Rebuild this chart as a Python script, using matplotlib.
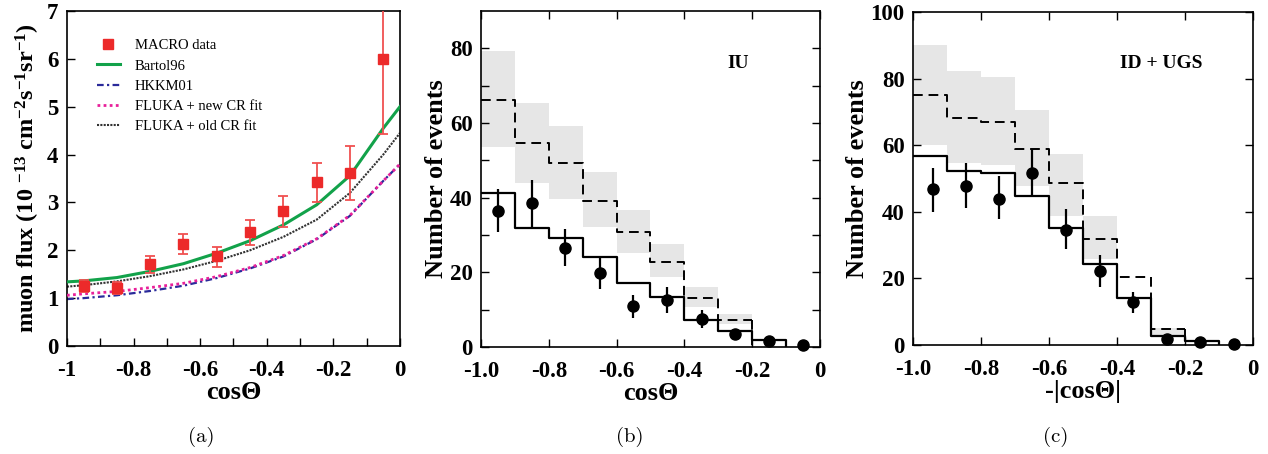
import numpy as np
import matplotlib
matplotlib.use("Agg")
from matplotlib import pyplot as plt

plt.rcParams["font.family"] = ["Liberation Serif", "DejaVu Serif"]
plt.rcParams["mathtext.fontset"] = "custom"
plt.rcParams["mathtext.rm"] = "Liberation Serif:bold"
plt.rcParams["mathtext.it"] = "Liberation Serif:bold"
plt.rcParams["mathtext.bf"] = "Liberation Serif:bold"

# ---- panel (a): muon flux ----
macro_x = [-0.95, -0.85, -0.75, -0.65, -0.55, -0.45, -0.35, -0.25, -0.15, -0.05]
macro_y = [1.26, 1.22, 1.71, 2.14, 1.87, 2.38, 2.82, 3.42, 3.62, 5.99]
macro_up = [0.12, 0.12, 0.18, 0.21, 0.20, 0.26, 0.32, 0.41, 0.55, 1.40]
macro_dn = [0.14, 0.14, 0.18, 0.22, 0.22, 0.27, 0.33, 0.42, 0.56, 1.56]

model_x = [-1.0, -0.95, -0.85, -0.75, -0.65, -0.55, -0.45, -0.35, -0.25, -0.15, -0.05, 0.0]
bartol96 = [1.34, 1.36, 1.43, 1.56, 1.72, 1.94, 2.20, 2.53, 2.95, 3.56, 4.55, 5.00]
hkkm01 = [0.98, 1.00, 1.06, 1.15, 1.26, 1.42, 1.62, 1.87, 2.23, 2.72, 3.45, 3.80]
fluka_new = [1.06, 1.09, 1.14, 1.22, 1.31, 1.45, 1.64, 1.89, 2.24, 2.73, 3.45, 3.80]
fluka_old = [1.24, 1.27, 1.35, 1.46, 1.60, 1.78, 2.00, 2.28, 2.64, 3.20, 4.00, 4.45]

# ---- panel (b): IU ----
bin_edges = np.round(np.arange(-1.0, 0.01, 0.1), 2)
iu_osc = [41.3, 31.9, 29.2, 24.0, 17.1, 13.3, 7.3, 4.2, 1.8, 0.0]
iu_noosc = [66.2, 54.7, 49.2, 39.2, 30.9, 22.7, 13.0, 7.2, 1.8, 0.0]
iu_band_hi = [79.2, 65.4, 59.1, 46.8, 36.8, 27.6, 16.0, 8.9, np.nan, np.nan]
iu_band_lo = [53.6, 43.8, 39.7, 32.2, 25.1, 18.7, 10.7, 6.2, np.nan, np.nan]
iu_x = [-0.951, -0.849, -0.751, -0.649, -0.552, -0.451, -0.348, -0.251, -0.150, -0.049]
iu_y = [36.4, 38.5, 26.4, 19.8, 10.9, 12.6, 7.6, 3.5, 1.5, 0.5]
iu_up = [6.0, 6.2, 5.3, 4.4, 3.1, 3.6, 2.4, 0.0, 0.0, 0.0]
iu_dn = [5.5, 6.3, 4.6, 4.3, 3.2, 3.5, 2.5, 0.0, 0.0, 0.0]

# ---- panel (c): ID + UGS ----
id_osc = [56.9, 52.2, 51.5, 44.8, 35.2, 24.3, 14.2, 2.7, 1.2, 0.0]
id_noosc = [75.0, 68.3, 67.0, 58.9, 48.7, 31.8, 20.3, 4.8, 1.2, 0.0]
id_band_hi = [90.2, 82.2, 80.5, 70.5, 57.3, 38.7, np.nan, 5.0, np.nan, np.nan]
id_band_lo = [60.0, 54.8, 54.0, 47.7, 38.7, 25.7, np.nan, 3.0, np.nan, np.nan]
id_x = [-0.941, -0.845, -0.747, -0.649, -0.550, -0.451, -0.353, -0.253, -0.155, -0.057]
id_y = [46.7, 47.8, 43.8, 51.7, 34.5, 22.2, 12.9, 1.8, 1.0, 0.2]
id_up = [6.6, 6.9, 6.9, 7.3, 6.2, 4.8, 3.1, 0.0, 0.0, 0.0]
id_dn = [6.7, 6.8, 6.1, 6.7, 5.8, 4.9, 3.4, 0.0, 0.0, 0.0]

TICK_FS = 16.5
LABEL_FS = 19


def style_axes(ax):
    for s in ax.spines.values():
        s.set_linewidth(1.2)
    ax.tick_params(which="both", direction="in", top=True, right=True,
                   width=1.0, labelsize=TICK_FS)
    ax.tick_params(which="both", length=6)
    ax.tick_params(axis="x", pad=10)
    ax.tick_params(axis="y", pad=6)
    for lab in ax.get_xticklabels() + ax.get_yticklabels():
        lab.set_fontweight("bold")


def histo(ax, vals, hi, lo, osc, data_x, data_y, up, dn):
    for i in range(len(vals)):
        if not np.isnan(hi[i]):
            ax.fill_between([bin_edges[i], bin_edges[i + 1]], lo[i], hi[i],
                            color="#e6e6e6", lw=0, zorder=1)
    # dashed (no oscillation)
    xs = np.repeat(bin_edges, 2)[1:-1]
    ax.plot(xs[:16], np.repeat(vals, 2)[:16], color="black", lw=1.4,
            ls=(0, (5, 3)), zorder=2)
    ax.plot([bin_edges[8], bin_edges[8]], [vals[7], 0], color="black",
            lw=1.4, ls=(0, (5, 3)), zorder=2)
    # solid (oscillated)
    ys = list(np.repeat(osc, 2))
    ax.plot(list(xs[:18]) + [bin_edges[9]], ys[:18] + [0], color="black",
            lw=1.6, zorder=3)
    ax.errorbar(data_x, data_y, yerr=[dn, up], fmt="o", color="black",
                ms=8, elinewidth=1.6, capsize=0, zorder=4, clip_on=False)
    ax.set_xlim(-1.0, 0.0)
    ax.set_xticks([-1.0, -0.8, -0.6, -0.4, -0.2, 0.0])
    ax.set_xticklabels(["-1.0", "-0.8", "-0.6", "-0.4", "-0.2", "0"])


fig = plt.figure(figsize=(12.68, 4.54), dpi=100)
fig.patch.set_facecolor("white")

# plot (a)
# ========
ax1 = fig.add_axes([0.0528, 0.2379, 0.2626, 0.7379])
ax1.plot(model_x, fluka_old, color="#333333", lw=1.5, ls=(0, (1, 0.6)),
         label="FLUKA + old CR fit", zorder=2)
ax1.plot(model_x, hkkm01, color="#2a2a9a", lw=1.6, ls=(0, (3, 1.5, 1, 1.5)),
         label="HKKM01", zorder=2)
ax1.plot(model_x, fluka_new, color="#e8209a", lw=2.0, ls=(0, (1, 1.2)),
         label="FLUKA + new CR fit", zorder=3)
ax1.plot(model_x, bartol96, color="#12a24a", lw=2.2, label="Bartol96", zorder=3)
ax1.errorbar(macro_x, macro_y, yerr=[macro_dn, macro_up], fmt="none",
             ecolor="#f05050", elinewidth=1.3, capsize=3.5, capthick=1.3,
             zorder=4)
ax1.plot(macro_x, macro_y, "s", color="#ec2a2a", ms=6.5, label="MACRO data",
         zorder=5)
ax1.set_xlim(-1, 0)
ax1.set_ylim(0, 7)
ax1.set_xticks([-1, -0.8, -0.6, -0.4, -0.2, 0])
ax1.set_xticklabels(["-1", "-0.8", "-0.6", "-0.4", "-0.2", "0"])
ax1.set_xticks(np.arange(-0.9, 0, 0.2), minor=True)
ax1.set_yticks(range(8))
style_axes(ax1)
ax1.tick_params(which="both", top=False, right=False)
ax1.set_xlabel("cosΘ", fontsize=LABEL_FS, fontweight="bold", labelpad=0)
ax1.set_ylabel(r"muon flux (10 $^{-13}$ cm$^{-2}$s$^{-1}$sr$^{-1}$)",
               fontsize=17.5, fontweight="bold", labelpad=4)
h, l = ax1.get_legend_handles_labels()
order = [4, 3, 1, 2, 0]
ax1.legend([h[i] for i in order], [l[i] for i in order], loc="upper left",
           bbox_to_anchor=(0.05, 0.955), frameon=False, fontsize=10.5,
           handlelength=1.6, handletextpad=1.0, labelspacing=0.48)

# plot (b)
# ========
ax2 = fig.add_axes([0.3793, 0.2357, 0.2674, 0.7401])
histo(ax2, iu_noosc, iu_band_hi, iu_band_lo, iu_osc, iu_x, iu_y, iu_up, iu_dn)
ax2.set_ylim(0, 90)
ax2.set_yticks([0, 20, 40, 60, 80])
ax2.set_yticks([10, 30, 50, 70], minor=True)
style_axes(ax2)
ax2.set_xlabel("cosΘ", fontsize=LABEL_FS, fontweight="bold", labelpad=0)
ax2.set_ylabel("Number of events", fontsize=LABEL_FS, fontweight="bold",
               labelpad=1)
ax2.text(0.76, 0.845, "IU", transform=ax2.transAxes, fontsize=14,
         fontweight="bold", ha="center", va="center")

# plot (c)
# ========
ax3 = fig.add_axes([0.7200, 0.2401, 0.2681, 0.7335])
histo(ax3, id_noosc, id_band_hi, id_band_lo, id_osc, id_x, id_y, id_up, id_dn)
ax3.set_ylim(0, 100)
ax3.set_yticks([0, 20, 40, 60, 80, 100])
style_axes(ax3)
ax3.set_xlabel("-|cosΘ|", fontsize=LABEL_FS, fontweight="bold", labelpad=0)
ax3.set_ylabel("Number of events", fontsize=LABEL_FS, fontweight="bold",
               labelpad=1)
ax3.text(0.73, 0.845, "ID + UGS", transform=ax3.transAxes, fontsize=14,
         fontweight="bold", ha="center", va="center")

# captions
for xc, cap in [(201, "(a)"), (630, "(b)"), (1056, "(c)")]:
    fig.text(xc / 1268, 1 - 437 / 454, cap, fontsize=15, ha="center",
             va="center", family=["cmr10", "DejaVu Serif"])

fig.savefig("out.png", dpi=100)
